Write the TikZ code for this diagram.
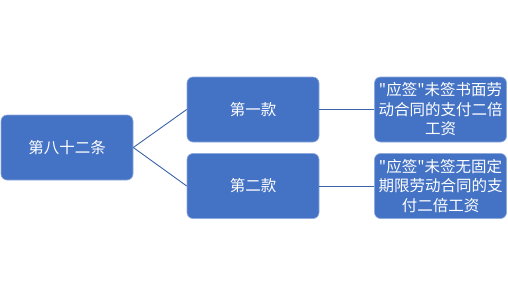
\documentclass[tikz,border=0pt]{standalone}
\usepackage{fontspec}
\newfontfamily\cjk{Noto Sans CJK SC}
\definecolor{boxblue}{RGB}{68,114,196}
\definecolor{linkblue}{RGB}{60,98,170}
\begin{document}
\begin{tikzpicture}[x=1pt,y=-1pt,
  box/.style={draw=boxblue!60!white, line width=0.6pt, fill=boxblue, rounded corners=6pt,
    minimum width=132pt, minimum height=65pt, inner sep=0pt, text=white,
    font=\cjk\fontsize{15.5}{19.5}\selectfont, align=center},
  link/.style={draw=linkblue, line width=0.9pt}]
\useasboundingbox (0,0) rectangle (508,297);
\node[box] (root) at (67,147.5) {第八十二条};
\node[box] (k1) at (253,109.5) {第一款};
\node[box] (k2) at (253,186) {第二款};
\node[box] (r1) at (440.5,109.5) {"应签"未签书面劳\\动合同的支付二倍\\工资};
\node[box] (r2) at (440.5,186) {"应签"未签无固定\\期限劳动合同的支\\付二倍工资};
\draw[link] (root.east) -- (k1.west);
\draw[link] (root.east) -- (k2.west);
\draw[link] (k1.east) -- (r1.west);
\draw[link] (k2.east) -- (r2.west);
\end{tikzpicture}
\end{document}
